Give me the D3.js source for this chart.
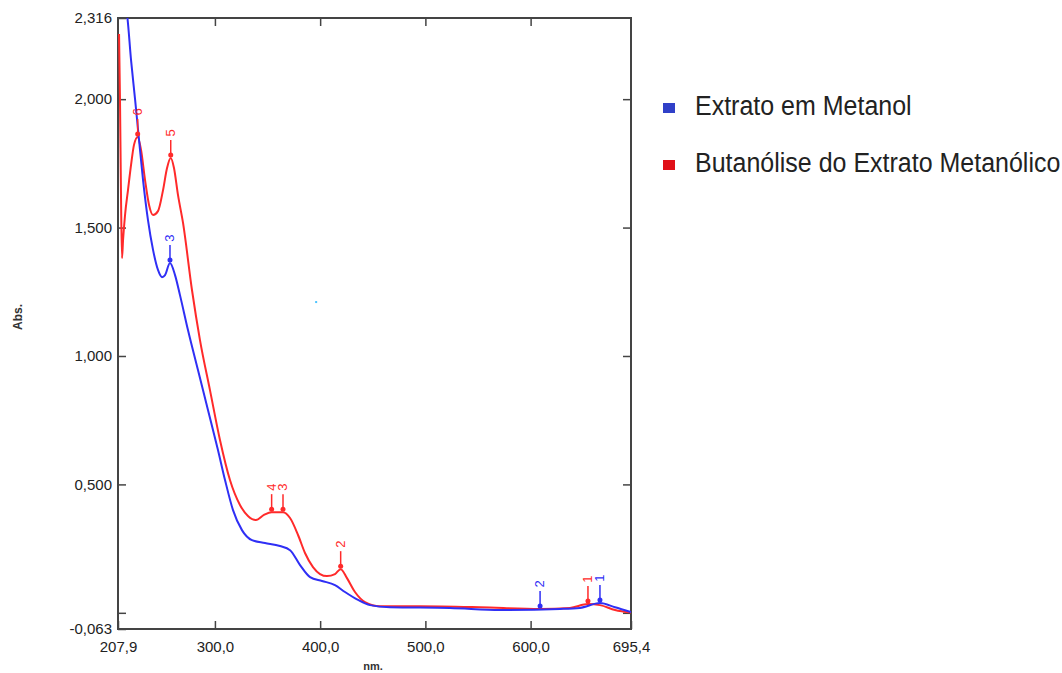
<!DOCTYPE html>
<html>
<head>
<meta charset="utf-8">
<script src="https://cdn.jsdelivr.net/npm/d3@7"></script>
<style>
  body { margin: 0; background: #fff; }
  text { font-family: "Liberation Sans", Arial, sans-serif; }
</style>
</head>
<body>
<svg id="chart" width="1062" height="673"></svg>
<script>
// spectra (wavelength nm, absorbance)
var blueNm  = [215.0, 216.5, 220.3, 224.1, 227.9, 231.7, 236.4, 241.2, 245.9, 249.7, 252.6, 257.3, 262.1, 266.8, 274.4, 283.9, 293.4, 302.9, 309.6, 317.2, 325.7, 335.2, 347.6, 361.8, 371.4, 380.9, 390.4, 401.8, 414.1, 423.6, 436.0, 447.4, 466.4, 523.4, 570.9, 627.9, 646.9, 665.9, 680.2, 695.4];
var blueAbs = [2.36, 2.328, 2.152, 2.000, 1.841, 1.685, 1.529, 1.413, 1.335, 1.307, 1.315, 1.362, 1.315, 1.237, 1.101, 0.945, 0.790, 0.634, 0.517, 0.400, 0.322, 0.283, 0.272, 0.260, 0.244, 0.186, 0.139, 0.124, 0.108, 0.081, 0.050, 0.030, 0.022, 0.019, 0.011, 0.015, 0.019, 0.038, 0.022, 0.003];

var redNm  = [208.9, 209.8, 210.8, 211.7, 212.7, 214.6, 217.4, 220.3, 223.1, 226.6, 229.8, 233.6, 237.4, 241.2, 245.9, 250.7, 254.5, 258.0, 261.1, 264.9, 269.7, 278.2, 285.8, 295.3, 304.8, 314.3, 323.8, 331.4, 339.0, 346.6, 353.9, 364.7, 371.4, 379.0, 385.6, 393.2, 399.9, 406.5, 414.1, 419.5, 425.5, 433.1, 442.6, 456.9, 494.9, 551.9, 608.9, 637.4, 654.5, 665.9, 680.2, 695.4];
var redAbs = [2.254, 1.997, 1.607, 1.381, 1.451, 1.549, 1.646, 1.744, 1.822, 1.853, 1.802, 1.685, 1.588, 1.549, 1.564, 1.646, 1.732, 1.771, 1.732, 1.627, 1.518, 1.257, 1.062, 0.867, 0.673, 0.517, 0.420, 0.377, 0.361, 0.381, 0.392, 0.392, 0.369, 0.303, 0.233, 0.178, 0.151, 0.143, 0.151, 0.170, 0.135, 0.081, 0.042, 0.026, 0.026, 0.022, 0.015, 0.019, 0.034, 0.030, 0.011, 0.001];

// peak picks
var bluePeakLabels = ["3", "2", "1"];
var bluePeakNm     = [257.3, 609.0, 665.9];
var bluePeakAbs    = [1.362, 0.015, 0.038];
var redPeakLabels  = ["6", "5", "4", "3", "2", "1"];
var redPeakNm      = [226.6, 258.0, 353.9, 364.7, 419.5, 654.5];
var redPeakAbs     = [1.853, 1.771, 0.392, 0.392, 0.170, 0.034];

var xTicks = [207.9, 300, 400, 500, 600, 695.4];
var yTicks = [-0.063, 0, 0.5, 1, 1.5, 2, 2.316];

var seriesNames = ["Extrato em Metanol", "Butanólise do Extrato Metanólico"];

var blueColor = "#2f2ff5", redColor = "#ff2a2a";

var svg = d3.select("#chart");
var plotL = 118, plotR = 631, plotT = 18, plotB = 629;

var x = d3.scaleLinear().domain([207.9, 695.4]).range([plotL, plotR]);
var y = d3.scaleLinear().domain([-0.063, 2.316]).range([plotB, plotT]);

// decimal comma, plain hyphen for minus
var fmt = function(spec) {
  var f = d3.format(spec);
  return function(d) { return f(d).replace(".", ",").replace("\u2212", "-"); };
};

svg.append("defs").append("clipPath").attr("id", "plotclip")
  .append("rect").attr("x", plotL).attr("y", plotT).attr("width", plotR - plotL).attr("height", plotB - plotT);

// axes, ticks pointing inward
var yFmt = fmt(".3f");
svg.append("g")
  .attr("transform", "translate(0," + plotB + ")")
  .call(d3.axisBottom(x).tickValues(xTicks).tickSize(-8).tickPadding(12).tickFormat(fmt(".1f")));
svg.append("g")
  .attr("transform", "translate(" + plotL + ",0)")
  .call(d3.axisLeft(y).tickValues(yTicks).tickSize(-8).tickPadding(6)
    .tickFormat(function(d) { return d === 0 ? "" : yFmt(d); }));
svg.append("g")
  .attr("transform", "translate(0," + plotT + ")")
  .call(d3.axisTop(x).tickValues(xTicks.slice(1, -1)).tickSize(-8).tickFormat(""));
svg.append("g")
  .attr("transform", "translate(" + plotR + ",0)")
  .call(d3.axisRight(y).tickValues(yTicks.slice(1, -1)).tickSize(-8).tickFormat(""));

svg.selectAll(".domain").remove();
svg.selectAll(".tick line").attr("stroke", "#444").attr("stroke-width", 1.5);
svg.selectAll(".tick text").attr("fill", "#222").style("font-size", "15px");

svg.append("rect")
  .attr("x", plotL).attr("y", plotT).attr("width", plotR - plotL).attr("height", plotB - plotT)
  .attr("fill", "none").attr("stroke", "#444").attr("stroke-width", 2);

svg.append("text").attr("x", 373).attr("y", 670).attr("text-anchor", "middle")
  .style("font-size", "11px").style("font-weight", "bold").attr("fill", "#333").text("nm.");
svg.append("text").attr("transform", "translate(22,317) rotate(-90)").attr("text-anchor", "middle")
  .style("font-size", "12px").style("font-weight", "bold").attr("fill", "#333").text("Abs.");

// curves
var line = d3.line().x(function(d) { return x(d[0]); }).y(function(d) { return y(d[1]); })
  .curve(d3.curveMonotoneX);
var plot = svg.append("g").attr("clip-path", "url(#plotclip)");

plot.append("path").datum(d3.zip(redNm, redAbs))
  .attr("d", line).attr("fill", "none").attr("stroke", redColor).attr("stroke-width", 2);
plot.append("path").datum(d3.zip(blueNm, blueAbs))
  .attr("d", line).attr("fill", "none").attr("stroke", blueColor).attr("stroke-width", 2);

// small stray point in the source
svg.append("rect").attr("x", x(396.2) - 1).attr("y", y(1.21) - 1).attr("width", 2).attr("height", 2).attr("fill", "#4cc4ff");

function drawPeaks(labels, nms, abss, color) {
  var g = svg.append("g").selectAll("g").data(d3.zip(labels, nms, abss)).enter().append("g")
    .attr("transform", function(d) { return "translate(" + x(d[1]) + "," + (y(d[2]) - 3) + ")"; });
  g.append("line").attr("x1", 0).attr("x2", 0).attr("y1", 0).attr("y2", -15)
    .attr("stroke", color).attr("stroke-width", 1.5);
  g.append("circle").attr("r", 2.5).attr("fill", color);
  g.append("text").attr("transform", "translate(4,-22) rotate(-90)")
    .attr("text-anchor", "middle").style("font-size", "13px").attr("fill", color)
    .text(function(d) { return d[0]; });
}
drawPeaks(redPeakLabels, redPeakNm, redPeakAbs, redColor);
drawPeaks(bluePeakLabels, bluePeakNm, bluePeakAbs, blueColor);

// legend
var legend = svg.append("g").selectAll("g").data(seriesNames).enter().append("g")
  .attr("transform", function(d, i) { return "translate(663," + (103 + i * 57) + ")"; });
legend.append("rect").attr("width", 12).attr("height", 10)
  .attr("fill", function(d, i) { return i === 0 ? "#3040c8" : "#e01018"; });
legend.append("text").attr("transform", "translate(32,12) scale(1,1.12)")
  .style("font-size", "25px").attr("fill", "#222").text(function(d) { return d; });
</script>
</body>
</html>
